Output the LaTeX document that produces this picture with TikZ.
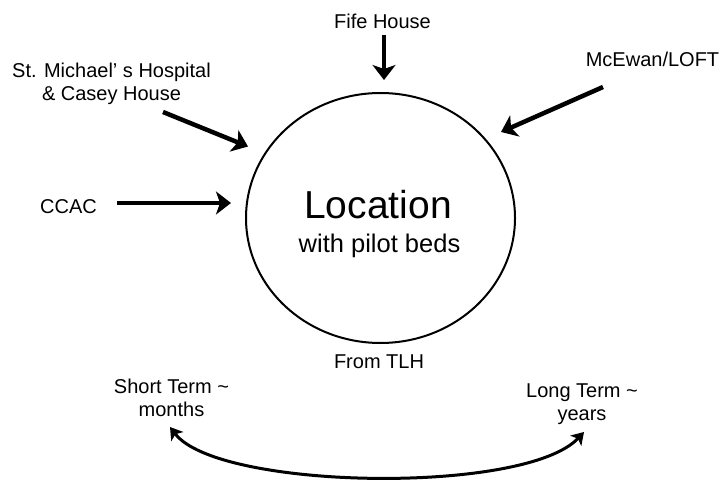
\documentclass[tikz,border=0pt]{standalone}
\usepackage{fontspec}
\setmainfont{Liberation Sans}
\usetikzlibrary{arrows.meta,shapes.geometric}
\begin{document}
\begin{tikzpicture}[x=1pt,y=-1pt,
  lbl/.style={font=\fontsize{20}{23}\selectfont, inner sep=0pt, align=center},
  bigarrow/.style={line width=4.5pt, -{Stealth[length=15pt,width=23pt,inset=4pt]}},
  curvearrow/.style={line width=3pt, {Stealth[length=12pt,width=15pt,inset=3pt]}-{Stealth[length=12pt,width=15pt,inset=3pt]}}
]
\useasboundingbox (0,0) rectangle (722,481);
% central location
\node[draw, line width=2pt, ellipse, minimum width=269pt, minimum height=250pt, inner sep=0pt] (loc) at (380.5,218) {};
\node[inner sep=0pt, anchor=base, font=\fontsize{39}{39}\selectfont] (loct) at (378,218) {Location};
\node[inner sep=0pt, anchor=base, font=\fontsize{25.5}{28}\selectfont] (locs) at (379.5,252.5) {with pilot beds};
% labels
\node[lbl, anchor=base] (fife) at (382.5,29) {Fife House};
\node[lbl, anchor=north] (stm) at (111.5,62.5) {St. Michael’ s Hospital\\\& Casey House};
\node[lbl, anchor=base] (mce) at (652.5,67) {McEwan/LOFT};
\node[lbl, anchor=base] (ccac) at (68.5,213) {CCAC};
\node[lbl, anchor=base] (tlh) at (379,368) {From TLH};
\node[lbl, anchor=north] (short) at (171.5,378.5) {Short Term \textasciitilde\\months};
\node[lbl, anchor=north] (long) at (582,383.5) {Long Term \textasciitilde\\years};
% arrow end points
\coordinate (fifeA) at (384,35);   \coordinate (fifeB) at (384,80);
\coordinate (stmA) at (163,112);   \coordinate (stmB) at (248,146.5);
\coordinate (mceA) at (603,87);    \coordinate (mceB) at (501,132);
\coordinate (ccacA) at (117,203);  \coordinate (ccacB) at (231,203);
\coordinate (shortT) at (170,427); \coordinate (longT) at (584,432);
% arrows
\draw[bigarrow] (fifeA) -- (fifeB);
\draw[bigarrow] (stmA) -- (stmB);
\draw[bigarrow] (mceA) -- (mceB);
\draw[bigarrow] (ccacA) -- (ccacB);
\draw[curvearrow] (shortT) .. controls (218,490) and (525,495) .. (longT);
\end{tikzpicture}
\end{document}
